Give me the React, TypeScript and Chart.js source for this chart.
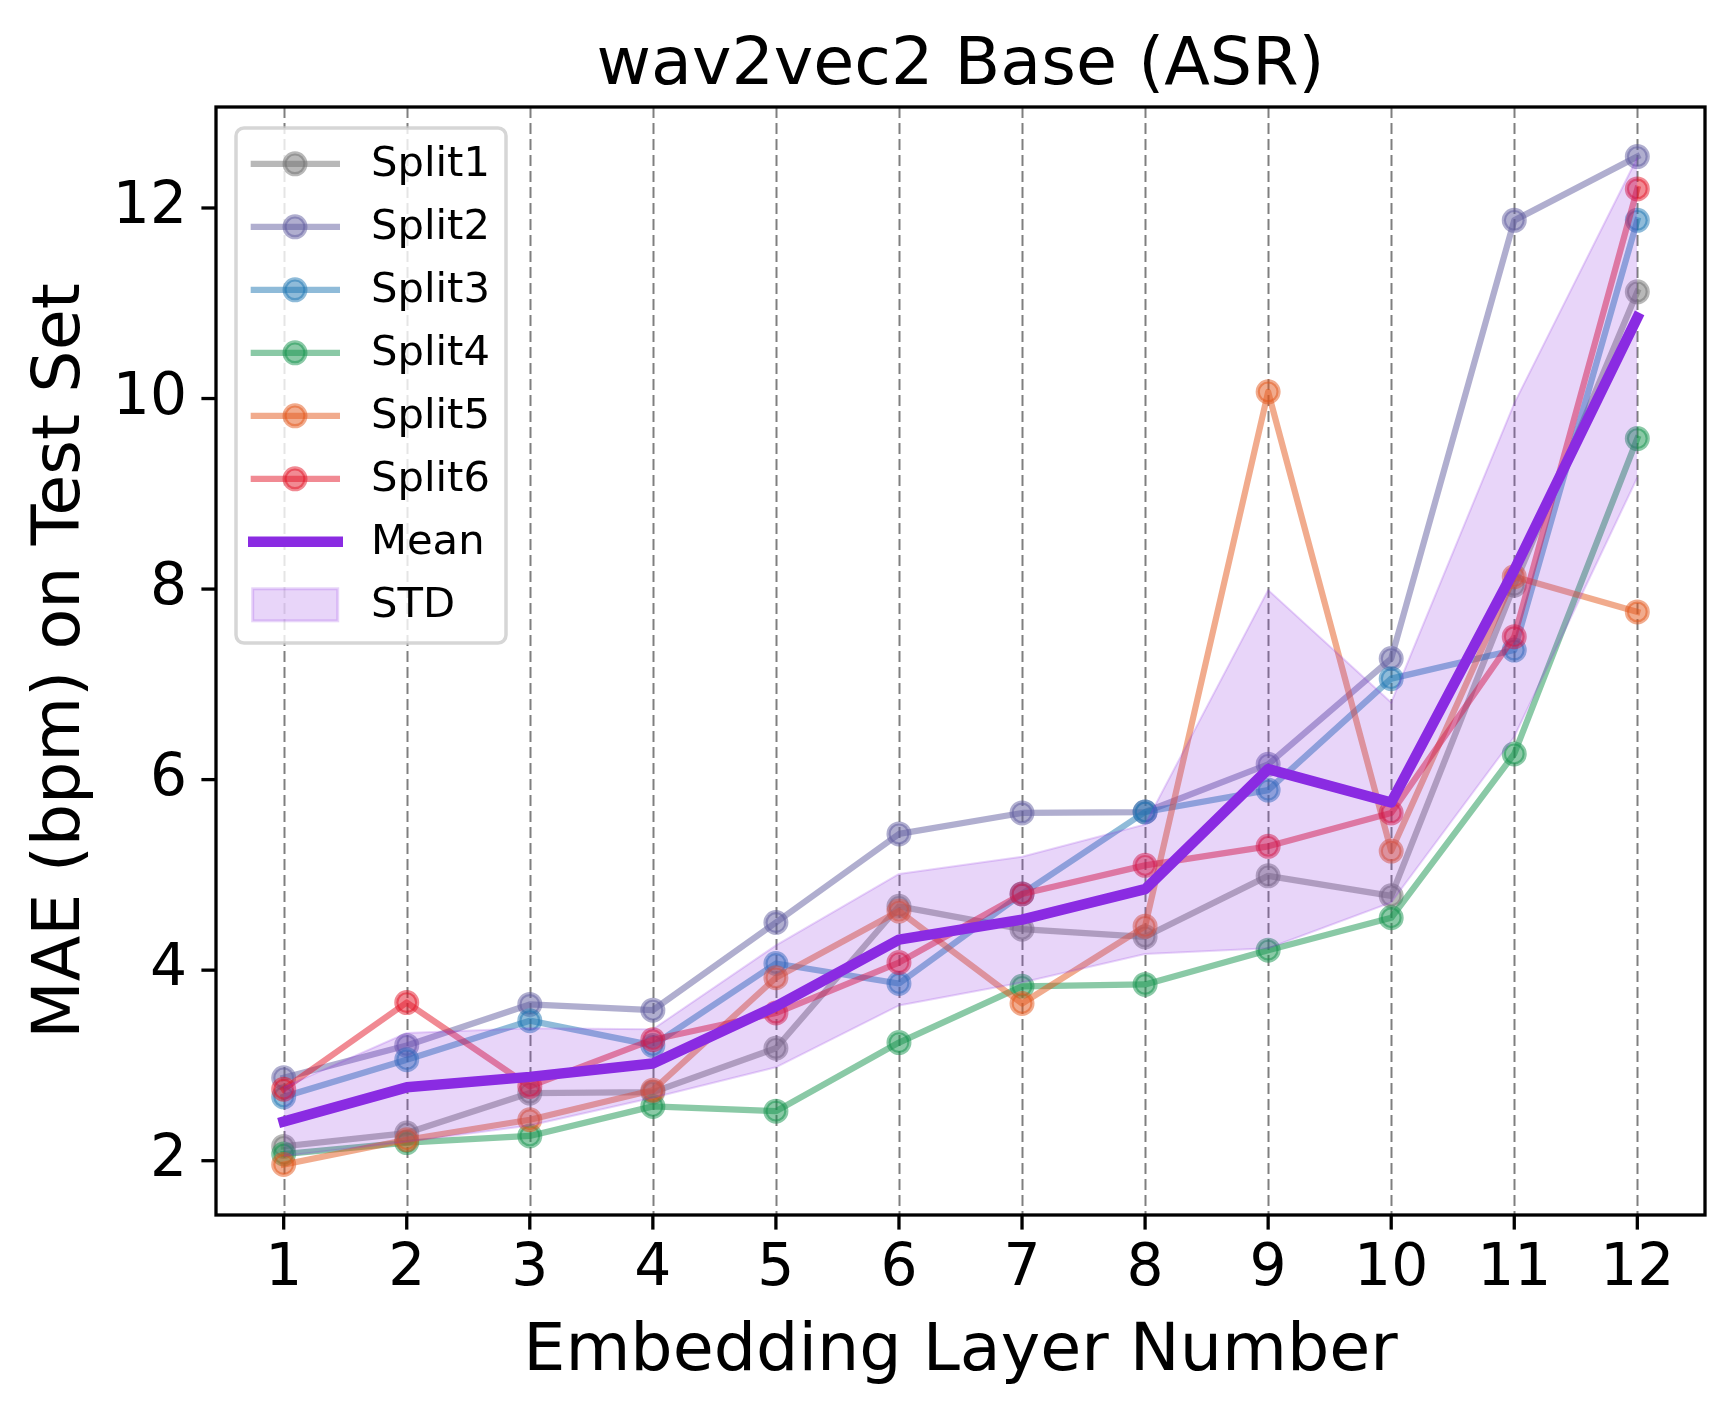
import React, { useEffect, useRef } from "react";
import { Chart, registerables } from "chart.js";

Chart.register(...registerables);

// ---------------- data ----------------
const layers = [1, 2, 3, 4, 5, 6, 7, 8, 9, 10, 11, 12];
const yTickValues = [2, 4, 6, 8, 10, 12];
const seriesNames = ["Split1", "Split2", "Split3", "Split4", "Split5", "Split6"];

const split1 = [2.15, 2.29, 2.71, 2.72, 3.18, 4.67, 4.43, 4.35, 4.99, 4.78, 8.04, 11.12];
const split2 = [2.87, 3.21, 3.64, 3.58, 4.5, 5.43, 5.65, 5.66, 6.16, 7.27, 11.87, 12.54];
const split3 = [2.67, 3.06, 3.47, 3.21, 4.07, 3.86, 4.8, 5.66, 5.89, 7.06, 7.36, 11.87];
const split4 = [2.07, 2.19, 2.26, 2.57, 2.52, 3.24, 3.83, 3.85, 4.21, 4.55, 6.27, 9.58];
const split5 = [1.96, 2.22, 2.43, 2.74, 3.92, 4.62, 3.65, 4.46, 10.07, 5.25, 8.13, 7.76];
const split6 = [2.75, 3.66, 2.78, 3.27, 3.55, 4.08, 4.8, 5.1, 5.3, 5.65, 7.5, 12.2];
const meanValues = [2.41, 2.77, 2.88, 3.02, 3.62, 4.32, 4.53, 4.85, 6.11, 5.76, 8.2, 10.85];
const stdValues = [0.36, 0.57, 0.51, 0.36, 0.64, 0.69, 0.66, 0.68, 1.88, 1.05, 1.75, 1.68];

const splitValues = [split1, split2, split3, split4, split5, split6];
const splitColors = [
  "rgba(113,113,113,0.5)",
  "rgba(97,94,160,0.5)",
  "rgba(31,119,180,0.5)",
  "rgba(22,148,78,0.5)",
  "rgba(228,88,28,0.5)",
  "rgba(228,22,40,0.5)",
];
const meanColor = "#8a2be2";
const bandColor = "rgba(138,43,226,0.2)";

const FONT = '"DejaVu Sans", "DejaVu Sans Fallback", sans-serif';
const CANVAS_W = 1718;
const CANVAS_H = 1389;

const toPoints = (vals: number[]) => layers.map((l, i) => ({ x: l, y: vals[i] }));

const decorPlugin = {
  id: "decor",
  beforeDatasetsDraw(chart: any) {
    const { ctx, chartArea: a, scales } = chart;
    const xs = scales.x;
    ctx.save();
    ctx.strokeStyle = "rgba(0,0,0,0.5)";
    ctx.lineWidth = 2;
    ctx.setLineDash([11, 5]);
    xs.ticks.forEach((t: any) => {
      const px = Math.round(xs.getPixelForValue(t.value)) + 0.5;
      ctx.beginPath();
      ctx.moveTo(px, a.top);
      ctx.lineTo(px, a.bottom);
      ctx.stroke();
    });
    ctx.restore();
  },
  afterDatasetsDraw(chart: any) {
    const { ctx, chartArea: a, scales } = chart;
    const xs = scales.x;
    const ys = scales.y;
    ctx.save();
    ctx.strokeStyle = "#000";
    ctx.lineWidth = 3.3;
    ctx.setLineDash([]);
    ctx.strokeRect(a.left, a.top, a.right - a.left, a.bottom - a.top);
    const tl = 14.6;
    xs.ticks.forEach((t: any) => {
      const px = xs.getPixelForValue(t.value);
      ctx.beginPath();
      ctx.moveTo(px, a.bottom);
      ctx.lineTo(px, a.bottom + tl);
      ctx.stroke();
    });
    ys.ticks.forEach((t: any) => {
      const py = ys.getPixelForValue(t.value);
      ctx.beginPath();
      ctx.moveTo(a.left, py);
      ctx.lineTo(a.left - tl, py);
      ctx.stroke();
    });
    ctx.restore();
  },
  afterDraw(chart: any) {
    const { ctx, chartArea: a } = chart;
    const cx = (a.left + a.right) / 2;
    const cy = (a.top + a.bottom) / 2;
    ctx.save();
    ctx.fillStyle = "#000";
    ctx.textAlign = "center";
    ctx.textBaseline = "alphabetic";
    ctx.font = `66.7px ${FONT}`;
    ctx.fillText("wav2vec2 Base (ASR)", cx, 76);
    ctx.fillText("Embedding Layer Number", cx, 1362);
    ctx.save();
    ctx.translate(71, cy);
    ctx.rotate(-Math.PI / 2);
    ctx.fillText("MAE (bpm) on Test Set", 0, 0);
    ctx.restore();

    // legend
    const lx = 228, ly = 120, lw = 270, lh = 515;
    ctx.beginPath();
    (ctx as any).roundRect(lx, ly, lw, lh, 8);
    ctx.fillStyle = "rgba(255,255,255,0.8)";
    ctx.fill();
    ctx.strokeStyle = "rgba(204,204,204,0.8)";
    ctx.lineWidth = 3.5;
    ctx.stroke();

    const rowY0 = 155.8;
    const rowGap = 63;
    ctx.font = `41.7px ${FONT}`;
    ctx.textAlign = "left";
    ctx.textBaseline = "middle";
    const textX = 363;
    const ds = chart.data.datasets;
    seriesNames.forEach((name, i) => {
      const y = rowY0 + i * rowGap;
      const c = ds[i].borderColor;
      ctx.strokeStyle = c;
      ctx.lineWidth = 6.25;
      ctx.lineCap = "butt";
      ctx.beginPath();
      ctx.moveTo(242.7, y);
      ctx.lineTo(332, y);
      ctx.stroke();
      ctx.beginPath();
      ctx.arc(287, y, 10.4, 0, Math.PI * 2);
      ctx.fillStyle = c;
      ctx.fill();
      ctx.lineWidth = 4.2;
      ctx.stroke();
      ctx.fillStyle = "#000";
      ctx.fillText(name, textX, y + 1.5);
    });
    // mean
    let y = rowY0 + 6 * rowGap;
    ctx.strokeStyle = meanColor;
    ctx.lineWidth = 10.5;
    ctx.beginPath();
    ctx.moveTo(240, y);
    ctx.lineTo(335, y);
    ctx.stroke();
    ctx.fillStyle = "#000";
    ctx.fillText("Mean", textX, y + 1.5);
    // std
    y = rowY0 + 7 * rowGap;
    ctx.fillStyle = bandColor;
    ctx.fillRect(244.7, y - 16, 85, 32);
    ctx.strokeStyle = bandColor;
    ctx.lineWidth = 3;
    ctx.strokeRect(244.7, y - 16, 85, 32);
    ctx.fillStyle = "#000";
    ctx.fillText("STD", textX, y + 1.5);
    ctx.restore();
  },
};

export default function App() {
  const ref = useRef<HTMLCanvasElement | null>(null);

  useEffect(() => {
    if (!ref.current) return;
    const splitSets = splitValues.map((vals, i) => ({
      label: seriesNames[i],
      data: toPoints(vals),
      borderColor: splitColors[i],
      backgroundColor: splitColors[i],
      borderWidth: 6.25,
      borderCapStyle: "square" as const,
      borderJoinStyle: "round" as const,
      pointRadius: 10.4,
      pointBorderWidth: 4.2,
      pointBackgroundColor: splitColors[i],
      pointBorderColor: splitColors[i],
      pointHoverRadius: 10.4,
      fill: false,
      tension: 0,
      order: 10 - i,
    }));
    const upper = meanValues.map((m, i) => m + stdValues[i]);
    const lower = meanValues.map((m, i) => m - stdValues[i]);

    const chart = new Chart(ref.current, {
      type: "line",
      data: {
        datasets: [
          ...splitSets,
          {
            label: "STD upper",
            data: toPoints(upper),
            borderColor: bandColor,
            backgroundColor: bandColor,
            borderWidth: 2,
            pointRadius: 0,
            fill: false,
            tension: 0,
            order: 2,
          },
          {
            label: "STD",
            data: toPoints(lower),
            borderColor: bandColor,
            backgroundColor: bandColor,
            borderWidth: 2,
            pointRadius: 0,
            fill: "-1",
            tension: 0,
            order: 2,
          },
          {
            label: "Mean",
            data: toPoints(meanValues),
            borderColor: meanColor,
            backgroundColor: meanColor,
            borderWidth: 10.5,
            borderCapStyle: "square",
            borderJoinStyle: "round",
            pointRadius: 0,
            fill: false,
            tension: 0,
            order: 1,
          },
        ] as any,
      },
      options: {
        responsive: false,
        animation: false,
        events: [],
        layout: { padding: { left: 0, right: 21, top: 99, bottom: 0 } },
        plugins: {
          legend: { display: false },
          title: { display: false },
          tooltip: { enabled: false },
        },
        scales: {
          x: {
            type: "linear",
            min: 0.45,
            max: 12.55,
            bounds: "data",
            afterBuildTicks: (s: any) => {
              s.ticks = layers.map((v) => ({ value: v }));
            },
            afterFit: (s: any) => {
              s.height = 182;
            },
            grid: { display: false, drawTicks: false },
            border: { display: false },
            ticks: {
              autoSkip: false,
              maxRotation: 0,
              padding: 20,
              color: "#000",
              font: { family: FONT, size: 58.3 },
              callback: (v: any) => String(v),
            },
          },
          y: {
            type: "linear",
            min: 1.43,
            max: 13.06,
            bounds: "data",
            afterBuildTicks: (s: any) => {
              s.ticks = yTickValues.map((v) => ({ value: v }));
            },
            afterFit: (s: any) => {
              s.width = 208;
            },
            grid: { display: false, drawTicks: false },
            border: { display: false },
            ticks: {
              autoSkip: false,
              padding: 29,
              color: "#000",
              font: { family: FONT, size: 58.3 },
              callback: (v: any) => String(v),
            },
          },
        },
      } as any,
      plugins: [decorPlugin],
    });
    return () => chart.destroy();
  }, []);

  return (
    <div>
      <canvas ref={ref} width={CANVAS_W} height={CANVAS_H} style={{ display: "block" }} />
    </div>
  );
}
